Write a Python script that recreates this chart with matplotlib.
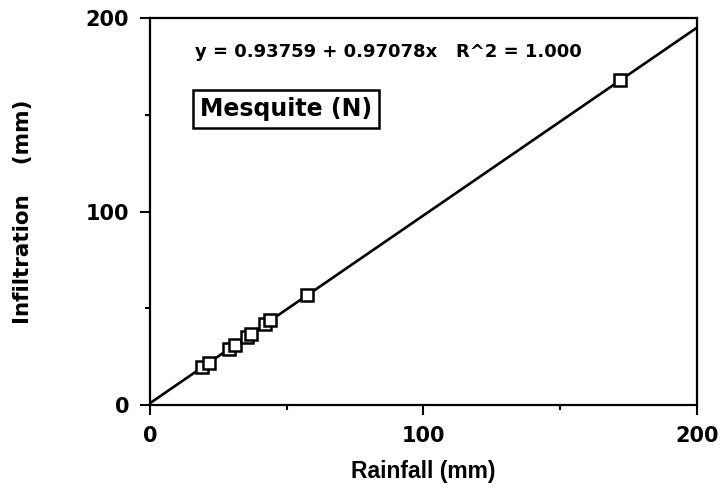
import numpy as np
import matplotlib
matplotlib.use('Agg')
import matplotlib.pyplot as plt

# (rainfall, infiltration in mm)
rainfall = [19.0, 21.5, 29.0, 31.0, 35.5, 37.0, 42.0, 44.0, 57.5, 172.0]
infiltration = [19.4, 21.6, 28.9, 30.8, 35.2, 36.8, 41.7, 43.7, 56.8, 168.0]

# regression from the annotation
intercept = 0.93759
slope = 0.97078
r2_text = '1.000'

x_ticks = [0, 100, 200]
y_ticks = [0, 100, 200]
minor_ticks = [50, 150]

plt.rcParams['font.family'] = ['DejaVu Sans']

fig = plt.figure(figsize=(7.23, 4.90), dpi=100)
ax = fig.add_axes([0.2075, 0.1735, 0.7565, 0.7895])

xfit = np.array([0, 200])
ax.plot(xfit, intercept + slope * xfit, color='black', linewidth=1.9, zorder=2)
ax.plot(rainfall, infiltration, linestyle='none', marker='s', markersize=8,
        markerfacecolor='white', markeredgecolor='black', markeredgewidth=1.8, zorder=3)

ax.set_xlim(0, 200)
ax.set_ylim(0, 200)
ax.set_xticks(x_ticks)
ax.set_yticks(y_ticks)
ax.set_xticks(minor_ticks, minor=True)
ax.set_yticks(minor_ticks, minor=True)
ax.tick_params(which='major', direction='out', length=7, width=1.5, pad=8,
               labelsize=15)
ax.tick_params(which='minor', direction='out', length=3.5, width=1.5)
for lab in ax.get_xticklabels() + ax.get_yticklabels():
    lab.set_fontweight('bold')
for sp in ax.spines.values():
    sp.set_linewidth(1.6)

ax.set_xlabel('Rainfall (mm)', fontsize=16.5, fontweight='bold', labelpad=10,
              family='Liberation Sans')
ax.set_ylabel('Infiltration    (mm)', fontsize=15.5, fontweight='bold', labelpad=38)

ax.text(16.5, 182.4, f'y = {intercept} + {slope}x   R^2 = {r2_text}',
        fontsize=13, fontweight='bold', va='center', ha='left')
ax.text(18.3, 153, 'Mesquite (N)', fontsize=17, fontweight='bold',
        va='center', ha='left',
        bbox=dict(boxstyle='square,pad=0.3', facecolor='white',
                  edgecolor='black', linewidth=1.8))

fig.savefig('out.png', dpi=100)
